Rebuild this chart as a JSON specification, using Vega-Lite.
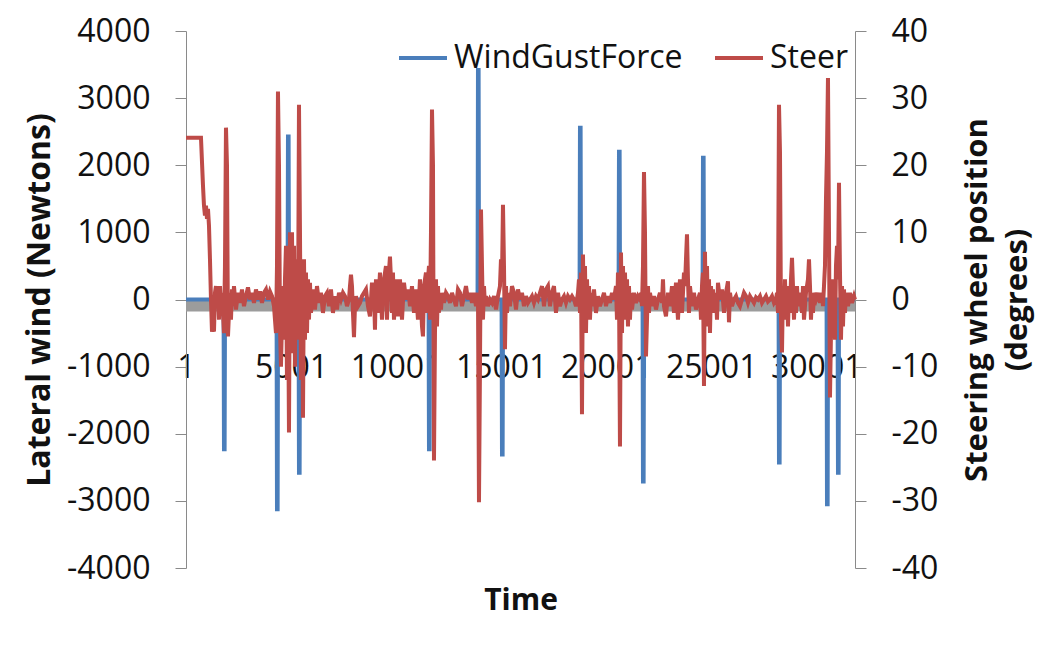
{
  "$schema": "https://vega.github.io/schema/vega-lite/v6.json",
  "autosize": {"type": "none"},
  "width": 669,
  "height": 537,
  "padding": {"left": 186, "top": 31, "right": 185, "bottom": 94},
  "background": "white",
  "config": {
    "font": "Open Sans",
    "view": {"stroke": null},
    "axis": {"grid": false, "labelColor": "#111", "titleColor": "#111", "domainColor": "#8a8a8a", "tickColor": "#8a8a8a"}
  },
  "datasets": {
    "wind": [
      {"t": 1, "f": 0},
      {"t": 1789, "f": 0}, {"t": 1809, "f": -2230}, {"t": 1839, "f": -2230}, {"t": 1859, "f": 0},
      {"t": 4312, "f": 0}, {"t": 4332, "f": -3125}, {"t": 4362, "f": -3125}, {"t": 4382, "f": 0},
      {"t": 4835, "f": 0}, {"t": 4855, "f": 2430}, {"t": 4885, "f": 2430}, {"t": 4905, "f": 0},
      {"t": 5359, "f": 0}, {"t": 5379, "f": -2580}, {"t": 5409, "f": -2580}, {"t": 5429, "f": 0},
      {"t": 11547, "f": 0}, {"t": 11567, "f": -2230}, {"t": 11597, "f": -2230}, {"t": 11617, "f": 0},
      {"t": 13879, "f": 0}, {"t": 13899, "f": 3420}, {"t": 13929, "f": 3420}, {"t": 13949, "f": 0},
      {"t": 15022, "f": 0}, {"t": 15042, "f": -2310}, {"t": 15072, "f": -2310}, {"t": 15092, "f": 0},
      {"t": 18734, "f": 0}, {"t": 18754, "f": 2560}, {"t": 18784, "f": 2560}, {"t": 18804, "f": 0},
      {"t": 20591, "f": 0}, {"t": 20611, "f": 2200}, {"t": 20641, "f": 2200}, {"t": 20661, "f": 0},
      {"t": 21733, "f": 0}, {"t": 21753, "f": -2710}, {"t": 21783, "f": -2710}, {"t": 21803, "f": 0},
      {"t": 24589, "f": 0}, {"t": 24609, "f": 2110}, {"t": 24639, "f": 2110}, {"t": 24659, "f": 0},
      {"t": 28207, "f": 0}, {"t": 28227, "f": -2430}, {"t": 28257, "f": -2430}, {"t": 28277, "f": 0},
      {"t": 30492, "f": 0}, {"t": 30512, "f": -3050}, {"t": 30542, "f": -3050}, {"t": 30562, "f": 0},
      {"t": 31015, "f": 0}, {"t": 31035, "f": -2580}, {"t": 31065, "f": -2580}, {"t": 31085, "f": 0},
      {"t": 31844, "f": 0}
    ],
    "steer": [
      {"t": 1, "s": 24.1}, {"t": 714, "s": 24.1}, {"t": 809, "s": 17}, {"t": 857, "s": 14}, {"t": 904, "s": 12.5},
      {"t": 952, "s": 14}, {"t": 1000, "s": 12}, {"t": 1047, "s": 13.5}, {"t": 1095, "s": 11}, {"t": 1142, "s": 6},
      {"t": 1190, "s": 0}, {"t": 1238, "s": -4.8}, {"t": 1285, "s": -3}, {"t": 1333, "s": -4.8}, {"t": 1380, "s": 1},
      {"t": 1428, "s": 2}, {"t": 1476, "s": -1}, {"t": 1523, "s": 1.5}, {"t": 1571, "s": -3}, {"t": 1618, "s": 2},
      {"t": 1666, "s": -1}, {"t": 1714, "s": 1}, {"t": 1761, "s": -2}, {"t": 1809, "s": -5}, {"t": 1856, "s": 5},
      {"t": 1904, "s": 25.6}, {"t": 1952, "s": 20}, {"t": 1999, "s": -5.5}, {"t": 2047, "s": -2}, {"t": 2094, "s": 1},
      {"t": 2142, "s": -3}, {"t": 2190, "s": 1.5}, {"t": 2237, "s": -1}, {"t": 2285, "s": 2}, {"t": 2380, "s": -1.5},
      {"t": 2475, "s": 1}, {"t": 2570, "s": -0.5}, {"t": 2666, "s": 1.5}, {"t": 2761, "s": -1}, {"t": 2856, "s": 0.5},
      {"t": 2951, "s": 1.8}, {"t": 3046, "s": 0}, {"t": 3142, "s": 1}, {"t": 3237, "s": -0.5}, {"t": 3332, "s": 1.5},
      {"t": 3427, "s": 0}, {"t": 3522, "s": 1.2}, {"t": 3618, "s": -0.5}, {"t": 3713, "s": 1}, {"t": 3808, "s": 1.5},
      {"t": 3903, "s": 0}, {"t": 3998, "s": 1.2}, {"t": 4094, "s": 0.5}, {"t": 4189, "s": -1}, {"t": 4236, "s": -3},
      {"t": 4284, "s": -5}, {"t": 4332, "s": 5}, {"t": 4379, "s": 31}, {"t": 4427, "s": 20}, {"t": 4474, "s": -4},
      {"t": 4522, "s": -10}, {"t": 4570, "s": -3}, {"t": 4617, "s": 2}, {"t": 4665, "s": -6}, {"t": 4712, "s": 3},
      {"t": 4760, "s": 8}, {"t": 4808, "s": -12}, {"t": 4855, "s": 5}, {"t": 4903, "s": -19.8}, {"t": 4950, "s": 10},
      {"t": 4998, "s": -8}, {"t": 5046, "s": 10}, {"t": 5093, "s": -5}, {"t": 5141, "s": 8}, {"t": 5188, "s": -10},
      {"t": 5236, "s": 6}, {"t": 5284, "s": 4}, {"t": 5331, "s": -6}, {"t": 5379, "s": 29}, {"t": 5426, "s": 10},
      {"t": 5474, "s": -12}, {"t": 5522, "s": 5}, {"t": 5569, "s": -17.6}, {"t": 5617, "s": 6}, {"t": 5664, "s": -6},
      {"t": 5712, "s": 4}, {"t": 5760, "s": -5}, {"t": 5807, "s": 3}, {"t": 5855, "s": -3}, {"t": 5902, "s": 2.5},
      {"t": 5950, "s": -2}, {"t": 6045, "s": 1.5}, {"t": 6140, "s": -1.5}, {"t": 6236, "s": 2}, {"t": 6331, "s": -0.5},
      {"t": 6426, "s": 1}, {"t": 6521, "s": -2}, {"t": 6616, "s": 0.5}, {"t": 6712, "s": 1}, {"t": 6807, "s": -1},
      {"t": 6902, "s": 1.5}, {"t": 6997, "s": -2}, {"t": 7092, "s": 0.5}, {"t": 7188, "s": -1.5}, {"t": 7283, "s": 1},
      {"t": 7378, "s": 0}, {"t": 7473, "s": 1}, {"t": 7568, "s": 0.5}, {"t": 7664, "s": -1}, {"t": 7759, "s": 0},
      {"t": 7806, "s": 2}, {"t": 7854, "s": 3.7}, {"t": 7902, "s": 2}, {"t": 7949, "s": -2}, {"t": 7997, "s": -5.6},
      {"t": 8044, "s": -1}, {"t": 8092, "s": 0.5}, {"t": 8187, "s": -1}, {"t": 8282, "s": -0.5}, {"t": 8378, "s": 0.5},
      {"t": 8473, "s": 1}, {"t": 8568, "s": 1.5}, {"t": 8663, "s": -1}, {"t": 8758, "s": -2.5}, {"t": 8854, "s": 2.5},
      {"t": 8949, "s": 1}, {"t": 8996, "s": -4.5}, {"t": 9044, "s": 3}, {"t": 9139, "s": -2}, {"t": 9234, "s": 4},
      {"t": 9330, "s": -3}, {"t": 9425, "s": 3}, {"t": 9520, "s": 5}, {"t": 9568, "s": -3}, {"t": 9615, "s": 2},
      {"t": 9710, "s": 6.4}, {"t": 9758, "s": 3}, {"t": 9806, "s": -2}, {"t": 9853, "s": 4}, {"t": 9901, "s": -3},
      {"t": 9996, "s": 3}, {"t": 10091, "s": -2.5}, {"t": 10186, "s": 3}, {"t": 10282, "s": -3}, {"t": 10377, "s": 2.5},
      {"t": 10472, "s": 0}, {"t": 10567, "s": 1.5}, {"t": 10615, "s": 0.5}, {"t": 10662, "s": -1}, {"t": 10758, "s": 2},
      {"t": 10853, "s": -2}, {"t": 10948, "s": 1.5}, {"t": 11043, "s": -3}, {"t": 11138, "s": 3}, {"t": 11234, "s": -4},
      {"t": 11281, "s": -5.5}, {"t": 11329, "s": 2}, {"t": 11424, "s": 4}, {"t": 11472, "s": -2}, {"t": 11519, "s": 3},
      {"t": 11567, "s": 5}, {"t": 11614, "s": -3}, {"t": 11662, "s": 10}, {"t": 11710, "s": 28.3}, {"t": 11757, "s": 20},
      {"t": 11805, "s": -24}, {"t": 11852, "s": -5}, {"t": 11900, "s": 3}, {"t": 11948, "s": -4}, {"t": 11995, "s": 2},
      {"t": 12043, "s": -2}, {"t": 12090, "s": 1}, {"t": 12138, "s": -1.5}, {"t": 12186, "s": 1}, {"t": 12281, "s": -0.5},
      {"t": 12376, "s": 1}, {"t": 12471, "s": 0.5}, {"t": 12566, "s": -0.5}, {"t": 12662, "s": 1}, {"t": 12757, "s": 0},
      {"t": 12852, "s": -1}, {"t": 12947, "s": 1.5}, {"t": 13042, "s": 1}, {"t": 13138, "s": -1}, {"t": 13233, "s": 0.5},
      {"t": 13328, "s": 2}, {"t": 13423, "s": 0}, {"t": 13518, "s": 1}, {"t": 13614, "s": -0.5}, {"t": 13709, "s": 1},
      {"t": 13804, "s": -1}, {"t": 13852, "s": 0}, {"t": 13899, "s": 1}, {"t": 13947, "s": -30.2}, {"t": 13994, "s": -10},
      {"t": 14042, "s": 13.4}, {"t": 14090, "s": 5}, {"t": 14137, "s": -3}, {"t": 14185, "s": 2}, {"t": 14232, "s": -1},
      {"t": 14280, "s": 0.5}, {"t": 14375, "s": -1}, {"t": 14470, "s": 0}, {"t": 14566, "s": -0.5}, {"t": 14661, "s": 0.5},
      {"t": 14756, "s": -1.5}, {"t": 14851, "s": 0.5}, {"t": 14946, "s": 2}, {"t": 14994, "s": 6}, {"t": 15042, "s": 3},
      {"t": 15089, "s": 14.1}, {"t": 15137, "s": 5}, {"t": 15184, "s": -7.4}, {"t": 15232, "s": 2}, {"t": 15280, "s": -2},
      {"t": 15327, "s": 1}, {"t": 15422, "s": -1}, {"t": 15518, "s": 2}, {"t": 15613, "s": 1}, {"t": 15708, "s": -1.5},
      {"t": 15803, "s": 1.5}, {"t": 15898, "s": 0}, {"t": 15994, "s": 1}, {"t": 16089, "s": -1}, {"t": 16184, "s": 0.5},
      {"t": 16279, "s": -0.5}, {"t": 16374, "s": 0}, {"t": 16470, "s": 0.5}, {"t": 16565, "s": -0.5}, {"t": 16660, "s": 0.5},
      {"t": 16755, "s": 0}, {"t": 16850, "s": 1}, {"t": 16946, "s": 2}, {"t": 17041, "s": -1}, {"t": 17136, "s": 1.5},
      {"t": 17231, "s": 2}, {"t": 17326, "s": -1}, {"t": 17422, "s": 1}, {"t": 17517, "s": 2}, {"t": 17612, "s": -2},
      {"t": 17707, "s": 1}, {"t": 17802, "s": -1}, {"t": 17898, "s": 0}, {"t": 17993, "s": 0.5}, {"t": 18088, "s": -0.5},
      {"t": 18183, "s": 0.5}, {"t": 18278, "s": 0}, {"t": 18374, "s": 0.5}, {"t": 18469, "s": 0}, {"t": 18564, "s": -1},
      {"t": 18659, "s": 1}, {"t": 18707, "s": 3}, {"t": 18754, "s": -2}, {"t": 18802, "s": 4}, {"t": 18850, "s": -17.1},
      {"t": 18897, "s": 6.7}, {"t": 18945, "s": -4}, {"t": 18992, "s": 5}, {"t": 19040, "s": -5}, {"t": 19088, "s": 3},
      {"t": 19135, "s": -2}, {"t": 19183, "s": 2}, {"t": 19230, "s": -3}, {"t": 19278, "s": 1}, {"t": 19326, "s": -1},
      {"t": 19421, "s": 1.5}, {"t": 19516, "s": -2}, {"t": 19611, "s": 0.5}, {"t": 19706, "s": -1}, {"t": 19802, "s": 0},
      {"t": 19897, "s": 1}, {"t": 19992, "s": -1}, {"t": 20087, "s": 0.5}, {"t": 20182, "s": -0.5}, {"t": 20278, "s": 1},
      {"t": 20373, "s": 0}, {"t": 20468, "s": 2}, {"t": 20516, "s": -3}, {"t": 20563, "s": 4}, {"t": 20611, "s": 2},
      {"t": 20658, "s": -21.9}, {"t": 20706, "s": 7}, {"t": 20754, "s": -5}, {"t": 20801, "s": 5}, {"t": 20849, "s": -3},
      {"t": 20896, "s": 4}, {"t": 20944, "s": -2}, {"t": 20992, "s": 3}, {"t": 21039, "s": -4}, {"t": 21087, "s": 2},
      {"t": 21134, "s": -3}, {"t": 21182, "s": 1}, {"t": 21230, "s": -1.5}, {"t": 21325, "s": 1}, {"t": 21420, "s": -0.5},
      {"t": 21515, "s": 0.5}, {"t": 21610, "s": 0}, {"t": 21658, "s": 1}, {"t": 21706, "s": -1}, {"t": 21753, "s": 5},
      {"t": 21801, "s": 19}, {"t": 21848, "s": 10}, {"t": 21896, "s": -8.5}, {"t": 21944, "s": -3}, {"t": 21991, "s": 2},
      {"t": 22039, "s": -2}, {"t": 22086, "s": 1}, {"t": 22182, "s": -1}, {"t": 22277, "s": 0.5}, {"t": 22372, "s": -1.5},
      {"t": 22467, "s": 0}, {"t": 22562, "s": 1}, {"t": 22658, "s": -0.5}, {"t": 22705, "s": 3}, {"t": 22753, "s": -1},
      {"t": 22848, "s": -2.5}, {"t": 22943, "s": 1}, {"t": 23038, "s": -1}, {"t": 23134, "s": 2}, {"t": 23229, "s": -2},
      {"t": 23324, "s": 2.5}, {"t": 23419, "s": -3}, {"t": 23514, "s": 3}, {"t": 23610, "s": -2}, {"t": 23705, "s": 4},
      {"t": 23752, "s": 2}, {"t": 23800, "s": 6}, {"t": 23848, "s": 9.7}, {"t": 23895, "s": 3}, {"t": 23943, "s": -2},
      {"t": 23990, "s": 2}, {"t": 24086, "s": -1}, {"t": 24181, "s": 1}, {"t": 24276, "s": -1.5}, {"t": 24371, "s": 0},
      {"t": 24466, "s": 1}, {"t": 24514, "s": -3}, {"t": 24562, "s": 2}, {"t": 24609, "s": 4}, {"t": 24657, "s": -12.9},
      {"t": 24704, "s": 7.1}, {"t": 24752, "s": -4}, {"t": 24800, "s": 5}, {"t": 24847, "s": -3}, {"t": 24895, "s": 3},
      {"t": 24942, "s": -5}, {"t": 24990, "s": 2}, {"t": 25038, "s": -1}, {"t": 25085, "s": 1.5}, {"t": 25133, "s": -2},
      {"t": 25228, "s": 1}, {"t": 25276, "s": -3}, {"t": 25323, "s": 2.5}, {"t": 25418, "s": 0}, {"t": 25514, "s": 1.5},
      {"t": 25609, "s": -2}, {"t": 25704, "s": 1}, {"t": 25799, "s": 2.7}, {"t": 25847, "s": -3.4}, {"t": 25894, "s": 1},
      {"t": 25990, "s": -1}, {"t": 26085, "s": 0}, {"t": 26180, "s": 0.5}, {"t": 26275, "s": -0.5}, {"t": 26370, "s": -1},
      {"t": 26466, "s": 0}, {"t": 26561, "s": 1}, {"t": 26656, "s": 0.5}, {"t": 26751, "s": -0.5}, {"t": 26846, "s": 0.5},
      {"t": 26942, "s": 0}, {"t": 27037, "s": -0.5}, {"t": 27132, "s": 0.3}, {"t": 27227, "s": 0}, {"t": 27322, "s": 0.5},
      {"t": 27418, "s": -0.5}, {"t": 27513, "s": 0}, {"t": 27608, "s": 0.5}, {"t": 27703, "s": -0.3}, {"t": 27798, "s": 0},
      {"t": 27894, "s": 0.5}, {"t": 27989, "s": -0.5}, {"t": 28084, "s": 0}, {"t": 28132, "s": 1}, {"t": 28179, "s": -2},
      {"t": 28227, "s": 29}, {"t": 28274, "s": 22}, {"t": 28322, "s": -3}, {"t": 28370, "s": -7.9}, {"t": 28417, "s": 2},
      {"t": 28465, "s": -3}, {"t": 28512, "s": 3}, {"t": 28560, "s": -2}, {"t": 28608, "s": 2}, {"t": 28655, "s": -4},
      {"t": 28703, "s": 1}, {"t": 28750, "s": -2}, {"t": 28798, "s": 3}, {"t": 28846, "s": 6.2}, {"t": 28893, "s": 2},
      {"t": 28941, "s": -3}, {"t": 28988, "s": 1}, {"t": 29036, "s": -2}, {"t": 29084, "s": 2}, {"t": 29131, "s": -1},
      {"t": 29226, "s": 1}, {"t": 29322, "s": -2}, {"t": 29369, "s": 2}, {"t": 29417, "s": -3}, {"t": 29512, "s": 1},
      {"t": 29607, "s": 3}, {"t": 29655, "s": 6}, {"t": 29702, "s": 2}, {"t": 29750, "s": -3}, {"t": 29798, "s": 1},
      {"t": 29845, "s": -2}, {"t": 29893, "s": 1}, {"t": 29988, "s": 0}, {"t": 30083, "s": 1}, {"t": 30178, "s": -0.5},
      {"t": 30274, "s": 1}, {"t": 30321, "s": -1}, {"t": 30369, "s": 2}, {"t": 30416, "s": 5}, {"t": 30464, "s": 15},
      {"t": 30512, "s": 22}, {"t": 30559, "s": 33}, {"t": 30607, "s": 10}, {"t": 30654, "s": -14.6}, {"t": 30702, "s": -5},
      {"t": 30750, "s": 3}, {"t": 30797, "s": -4}, {"t": 30845, "s": 2}, {"t": 30892, "s": -6}, {"t": 30940, "s": 5},
      {"t": 30988, "s": 8}, {"t": 31035, "s": 3}, {"t": 31083, "s": 17.4}, {"t": 31130, "s": 4}, {"t": 31178, "s": -6},
      {"t": 31226, "s": 2}, {"t": 31273, "s": -4}, {"t": 31321, "s": 1.5}, {"t": 31368, "s": -2}, {"t": 31416, "s": 1},
      {"t": 31511, "s": -1}, {"t": 31606, "s": 1}, {"t": 31702, "s": -0.5}, {"t": 31797, "s": 0.5}, {"t": 31844, "s": 0}
    ]
  },
  "layer": [
    {
      "layer": [
        {
          "data": {"values": [{}]},
          "mark": {"type": "rect", "color": "#9c9c9c"},
          "encoding": {
            "x": {"datum": 1, "type": "quantitative", "scale": {"domain": [1, 31845], "nice": false, "zero": false},
              "axis": {"orient": "bottom", "offset": -268.5, "zindex": 0, "values": [1, 5001, 10001, 15001, 20001, 25001, 30001],
                "labelExpr": "'' + datum.value", "ticks": false, "domain": false, "labelFlush": false, "labelBound": false, "labelOverlap": false,
                "labelFontSize": 32, "labelPadding": 53, "title": "Time", "titleFontSize": 30, "titleFontWeight": "bold",
                "titlePadding": 202}},
            "x2": {"datum": 31845},
            "y": {"datum": 0, "type": "quantitative"},
            "y2": {"datum": -180}
          }
        },
        {
          "data": {"name": "wind"},
          "mark": {"type": "line", "strokeWidth": 4, "interpolate": "linear"},
          "encoding": {
            "x": {"field": "t", "type": "quantitative"},
            "y": {"field": "f", "type": "quantitative",
              "scale": {"domain": [-4000, 4000], "nice": false},
              "axis": {"orient": "left", "values": [-4000, -3000, -2000, -1000, 0, 1000, 2000, 3000, 4000], "labelExpr": "'' + datum.value",
                "tickSize": 11, "labelFontSize": 32, "labelPadding": 25, "title": "Lateral wind (Newtons)",
                "titleFontSize": 32, "titleFontWeight": "bold", "titlePadding": 10}},
            "color": {"datum": "WindGustForce", "type": "nominal"}
          }
        }
      ]
    },
    {
      "data": {"name": "steer"},
      "mark": {"type": "line", "strokeWidth": 4, "interpolate": "linear"},
      "encoding": {
        "x": {"field": "t", "type": "quantitative"},
        "y": {"field": "s", "type": "quantitative",
          "scale": {"domain": [-40, 40], "nice": false},
          "axis": {"orient": "right", "values": [-40, -30, -20, -10, 0, 10, 20, 30, 40], "labelExpr": "'' + datum.value",
            "tickSize": 11, "labelFontSize": 32, "labelPadding": 25,
            "title": ["Steering wheel position", "(degrees)"], "titleAngle": -90,
            "titleFontSize": 31, "titleFontWeight": "bold", "titlePadding": 16, "titleLineHeight": 40}},
        "color": {"datum": "Steer", "type": "nominal",
          "scale": {"domain": ["WindGustForce", "Steer"], "range": ["#4A7EBB", "#BE4B48"]},
          "legend": {"orient": "none", "legendX": 211, "legendY": 1, "direction": "horizontal", "title": null,
            "symbolType": "stroke", "symbolSize": 2304, "symbolStrokeWidth": 4, "labelFontSize": 32, "labelLimit": 0,
            "labelColor": "#111", "labelOffset": 5, "columnPadding": 24, "padding": 0}}
      }
    }
  ],
  "resolve": {"scale": {"y": "independent"}}
}
